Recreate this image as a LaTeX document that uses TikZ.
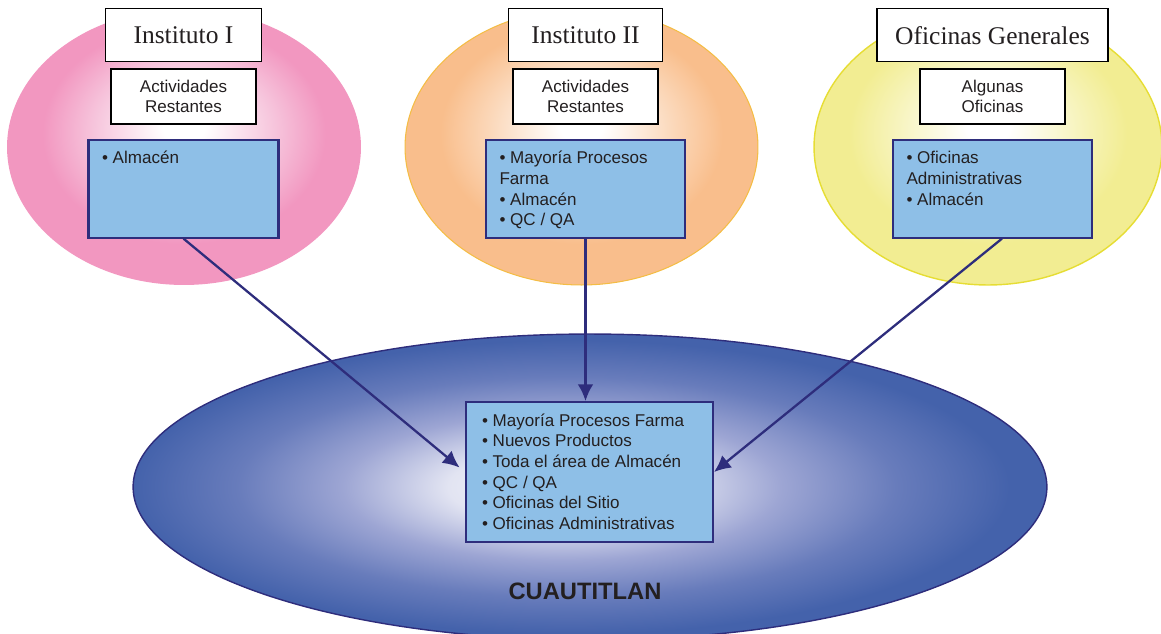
\documentclass[tikz,border=0pt]{standalone}
\usepackage{fontspec}
\setmainfont{Liberation Serif}
\setsansfont{Liberation Sans}
\usetikzlibrary{positioning,arrows.meta}

\definecolor{rosa}{HTML}{F297C0}
\definecolor{rosaclaro}{HTML}{F6C3DB}
\definecolor{naranja}{HTML}{F9BE8C}
\definecolor{naranjaclaro}{HTML}{FBD8BA}
\definecolor{naranjaborde}{HTML}{F4BD45}
\definecolor{amarillo}{HTML}{F2ED92}
\definecolor{amarilloclaro}{HTML}{F7F4BE}
\definecolor{amarilloborde}{HTML}{E6DD34}
\definecolor{azulsitio}{HTML}{4462AB}
\definecolor{azulmedio}{HTML}{8C96CC}
\definecolor{azulclaro}{HTML}{E2E4F2}
\definecolor{azulcaja}{HTML}{8EBFE7}
\definecolor{marino}{HTML}{2E2D7C}
\definecolor{tinta}{HTML}{231F20}

\pgfdeclareradialshading{sombrarosa}{\pgfpoint{0bp}{4bp}}{color(0bp)=(white); color(3bp)=(white); color(13bp)=(rosaclaro); color(20bp)=(rosa); color(50bp)=(rosa)}
\pgfdeclareradialshading{sombranaranja}{\pgfpoint{0bp}{4bp}}{color(0bp)=(white); color(3bp)=(white); color(13bp)=(naranjaclaro); color(20bp)=(naranja); color(50bp)=(naranja)}
\pgfdeclareradialshading{sombraamarilla}{\pgfpoint{0bp}{4bp}}{color(0bp)=(white); color(3bp)=(white); color(13bp)=(amarilloclaro); color(20bp)=(amarillo); color(50bp)=(amarillo)}
\pgfdeclareradialshading{sombraazul}{\pgfpoint{-2bp}{0bp}}{color(0bp)=(white!70!azulclaro); color(6bp)=(azulclaro); color(12bp)=(azulmedio!80!azulclaro); color(18bp)=(azulmedio!50!azulsitio); color(24bp)=(azulsitio); color(50bp)=(azulsitio)}

\begin{document}
\begin{tikzpicture}[x=0.02cm,y=-0.02cm,
titulo/.style={
  draw,
  fill=white,
  line width=0.8pt,
  font=\fontsize{14.5}{17}\selectfont,
  text=tinta,
  minimum width=#1,
  minimum height=1.06cm,
  inner sep=0pt
  },
actividad/.style={
  draw,
  fill=white,
  line width=0.6pt,
  font=\sffamily\fontsize{9.7}{11.6}\selectfont,
  text=tinta,
  align=center,
  minimum width=2.9cm,
  minimum height=1.1cm,
  inner sep=0pt
  },
bloque/.style={
  draw=marino,
  fill=azulcaja,
  line width=1.2pt,
  font=\sffamily\fontsize{9.7}{11.7}\selectfont,
  text=tinta,
  inner xsep=0.27cm,
  inner ysep=0.2cm
  },
ciudad/.style={
  font=\sffamily\bfseries\fontsize{13.5}{16}\selectfont,
  text=tinta
  },
flecha/.style={
  draw=marino,
  line width=1.3pt,
  -{Latex[length=9.5pt,width=9pt]}
  }
]
\useasboundingbox (0,0) rectangle (1161,633);

% zonas
\shade[shading=sombrarosa] (184,147) ellipse [x radius=3.54cm, y radius=2.76cm];
\shade[shading=sombranaranja, draw=naranjaborde, line width=0.6pt] (581.5,147) ellipse [x radius=3.53cm, y radius=2.76cm];
\shade[shading=sombraamarilla, draw=amarilloborde, line width=0.8pt] (988,147) ellipse [x radius=3.48cm, y radius=2.76cm];
\shade[shading=sombraazul, draw=marino, line width=0.8pt] (590,487) ellipse [x radius=9.14cm, y radius=3.06cm];

% Instituto I
\node[actividad] (ac1) at (183.5,96.5) {Actividades\\Restantes};
\node[titulo=3.12cm, above=0.12cm of ac1] (ti1) {Instituto I};
\node[bloque, below=0.28cm of ac1] (bl1) {\parbox[c][1.56cm][t]{3.26cm}{\raggedright\strut • Almacén}};

% Instituto II
\node[actividad] (ac2) at (585.5,96.5) {Actividades\\Restantes};
\node[titulo=3.08cm, above=0.12cm of ac2] (ti2) {Instituto II};
\node[bloque, below=0.28cm of ac2] (bl2) {\parbox[c][1.56cm][t]{3.44cm}{\raggedright\strut • Mayoría Procesos\\ Farma\\ • Almacén\\ • QC / QA}};

% Oficinas Generales
\node[actividad] (ac3) at (992.5,96.5) {Algunas\\Oficinas};
\node[titulo=4.62cm, above=0.12cm of ac3] (ti3) {Oficinas Generales};
\node[bloque, below=0.28cm of ac3] (bl3) {\parbox[c][1.56cm][t]{3.44cm}{\raggedright\strut • Oficinas\\ Administrativas\\ • Almacén}};

% Cuautitlan
\node[bloque, inner xsep=0.32cm] (ctr) at (589.5,472) {\parbox[c][2.4cm][t]{4.3cm}{\raggedright\strut • Mayoría Procesos Farma\\ • Nuevos Productos\\ • Toda el área de Almacén\\ • QC / QA\\ • Oficinas del Sitio\\ • Oficinas Administrativas}};
\node[ciudad] (cua) at (585,591) {CUAUTITLAN};

\draw[flecha, shorten >=0.14cm] (bl1.south) -- (ctr.west);
\draw[flecha] (bl2.south) -- (bl2.south |- ctr.north);
\draw[flecha] ([xshift=0.19cm]bl3.south) -- (ctr.east);

\end{tikzpicture}
\end{document}
